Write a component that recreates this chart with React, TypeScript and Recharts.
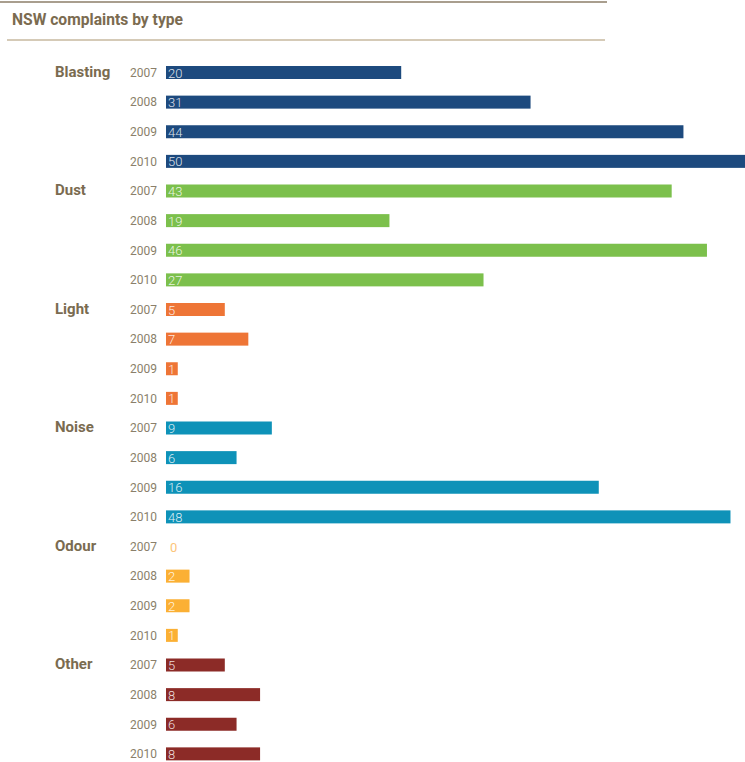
import { BarChart, Bar, XAxis, YAxis, Cell } from "recharts";

const categories = ["Blasting", "Dust", "Light", "Noise", "Odour", "Other"];
const years = ["2007", "2008", "2009", "2010"];

// bar lengths as drawn
const blasting = [20, 31, 44, 50];
const dust = [43, 19, 46, 27];
const light = [5, 7, 1, 1];
const noise = [9, 6, 36.8, 48];
const odour = [0, 2, 2, 1];
const other = [5, 8, 6, 8];

// numbers printed on the bars (the 2009 noise bar is labelled 16 in the source)
const noisePrinted = [9, 6, 16, 48];

const groupValues = [blasting, dust, light, noise, odour, other];
const groupPrinted = [blasting, dust, light, noisePrinted, odour, other];
const colors = ["#1d4a7e", "#7cc04c", "#ee7536", "#0e92b8", "#fbb034", "#8c2b27"];
const zeroLabelColors = ["#8fa7c4", "#b5dc98", "#f5b48c", "#8ccbe0", "#fcc57a", "#c99490"];

const rows = categories.flatMap((cat, g) =>
  years.map((yr, i) => ({
    key: `${cat}-${yr}`,
    category: i === 0 ? cat : "",
    year: yr,
    value: groupValues[g][i],
    printed: groupPrinted[g][i],
    color: colors[g],
    labelColor: groupValues[g][i] === 0 ? zeroLabelColors[g] : "rgba(255,255,255,0.85)",
  }))
);

const rowByKey = Object.fromEntries(rows.map((r) => [r.key, r]));

const RowTick = (props: any) => {
  const { y, payload } = props;
  const row = rowByKey[payload.value];
  if (!row) return null;
  return (
    <g>
      {row.category && (
        <text
          x={55}
          y={y - 1}
          dominantBaseline="central"
          fontFamily="Roboto, sans-serif"
          fontWeight={700}
          fontSize={15}
          fill="#7a6b50"
        >
          {row.category}
        </text>
      )}
      <text
        x={157}
        y={y}
        textAnchor="end"
        dominantBaseline="central"
        fontFamily="Roboto, sans-serif"
        fontSize={12}
        fill="#8a7f6a"
      >
        {row.year}
      </text>
    </g>
  );
};

// bar plus its printed number, so the zero-length bar still gets its "0"
const BarWithText = (props: any) => {
  const { x, y, width, height, payload } = props;
  const row = rowByKey[payload.key];
  return (
    <g>
      {width > 0 && <rect x={x} y={y} width={width} height={height} fill={row.color} />}
      <text
        x={x + (width > 0 ? 2 : 4)}
        y={y + height / 2 + 0.5}
        dominantBaseline="central"
        fontFamily="Roboto, sans-serif"
        fontWeight={width > 0 ? 300 : 400}
        fontSize={13}
        fill={row.labelColor}
      >
        {row.printed}
      </text>
    </g>
  );
};

export default function App() {
  return (
    <div
      style={{
        position: "absolute",
        left: 0,
        top: 0,
        width: 745,
        height: 762,
        overflow: "hidden",
        background: "#fff",
      }}
    >
      <svg width={745} height={50} style={{ position: "absolute", left: 0, top: 0 }}>
        <line x1={0} y1={2} x2={607} y2={2} stroke="#8c7e68" strokeWidth={1.5} />
        <text
          x={12}
          y={25}
          fontFamily="Roboto, sans-serif"
          fontWeight={700}
          fontSize={17}
          fill="#7b6b50"
          textLength={171}
          lengthAdjust="spacingAndGlyphs"
        >
          NSW complaints by type
        </text>
        <line x1={7} y1={40} x2={605} y2={40} stroke="#d5cab7" strokeWidth={2} />
      </svg>
      <div style={{ position: "absolute", left: 0, top: 0 }}>
        <BarChart
          width={754}
          height={769}
          data={rows}
          layout="vertical"
          margin={{ top: 58, right: 0, bottom: 0, left: 0 }}
          barSize={13}
        >
          <XAxis type="number" hide domain={[0, 50]} />
          <YAxis
            type="category"
            dataKey="key"
            width={166}
            axisLine={false}
            tickLine={false}
            interval={0}
            tick={<RowTick />}
          />
          <Bar dataKey="value" isAnimationActive={false} shape={<BarWithText />}>
            {rows.map((r) => (
              <Cell key={r.key} fill={r.color} />
            ))}
          </Bar>
        </BarChart>
      </div>
    </div>
  );
}
